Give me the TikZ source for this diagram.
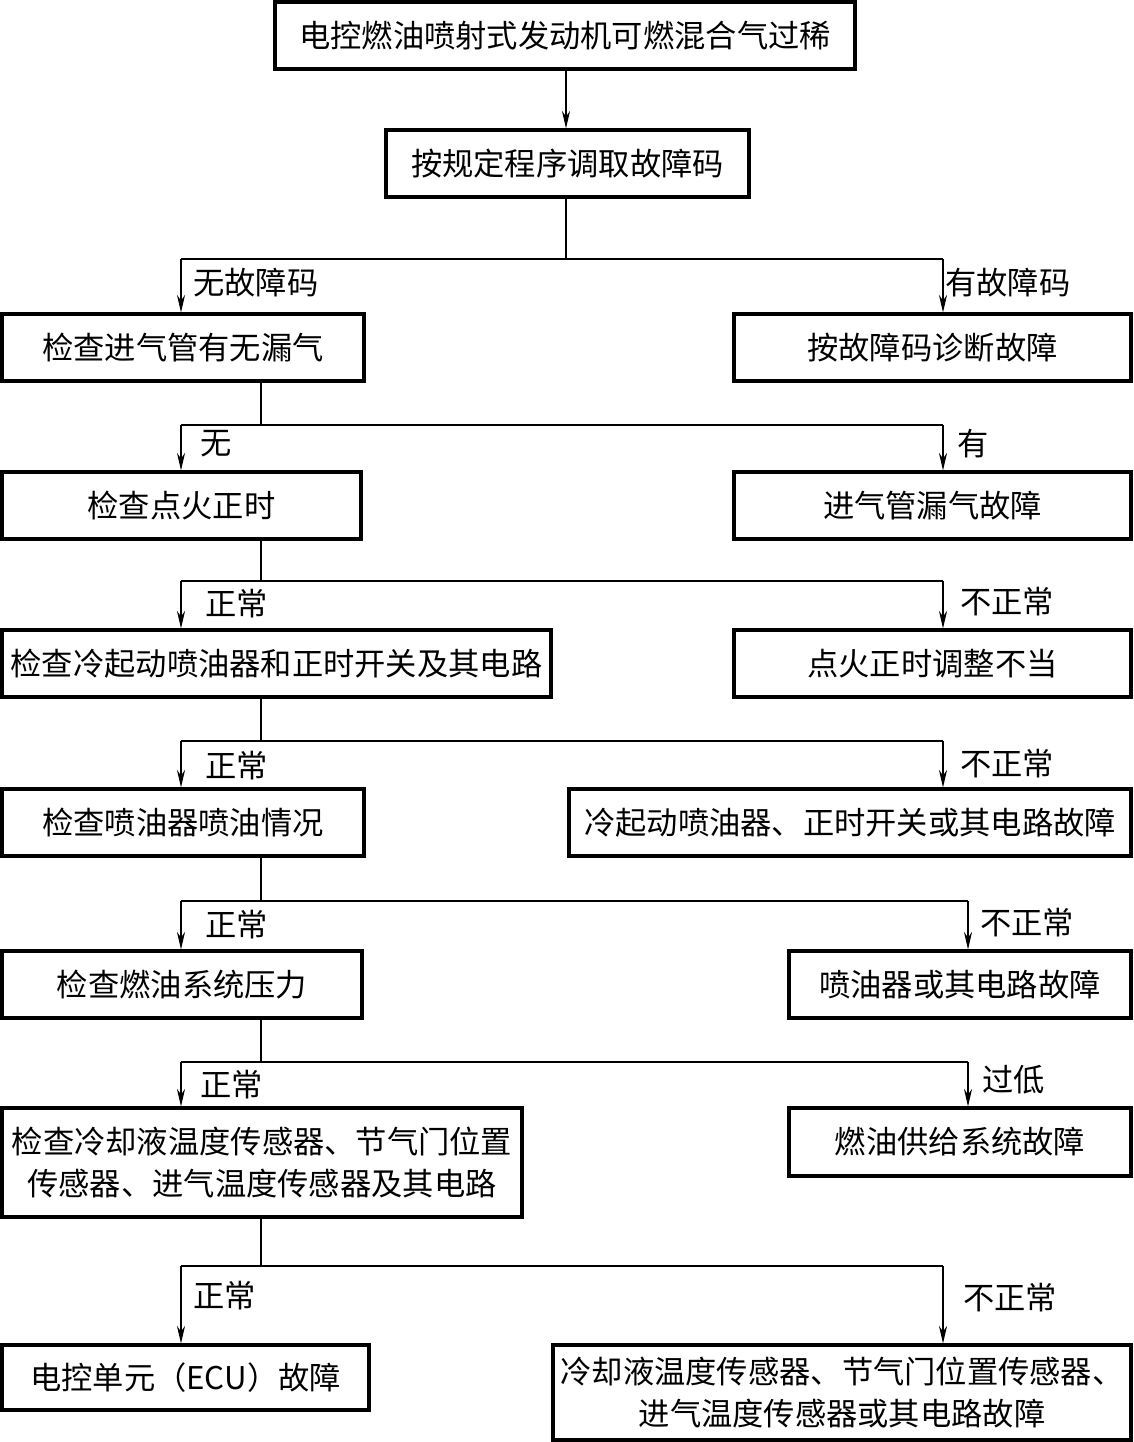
\documentclass[tikz,border=0pt]{standalone}
\usepackage{fontspec}
\setmainfont{Noto Sans CJK SC}
\usetikzlibrary{arrows.meta}
\begin{document}
\begin{tikzpicture}[x=0.02cm,y=-0.02cm,
  box/.style={draw,line width=1.8pt,inner sep=0pt,align=center,minimum height=1.34cm,
    font=\fontsize{17.8pt}{23.5pt}\selectfont},
  lbl/.style={anchor=west,inner sep=0pt,font=\fontsize{17.8pt}{23.5pt}\selectfont},
  conn/.style={line width=0.7pt},
  arr/.style={conn,-{Stealth[length=10pt,width=4.6pt]}}]
\useasboundingbox (0,0) rectangle (1133,1442);
% boxes
\node[box,minimum width=11.6cm] (b1) at (565,35.5) {电控燃油喷射式发动机可燃混合气过稀};
\node[box,minimum width=7.26cm] (b2) at (567.5,163.5) {按规定程序调取故障码};
\node[box,minimum width=7.24cm] (b3L) at (183,347.5) {检查进气管有无漏气};
\node[box,minimum width=7.94cm] (b3R) at (932.5,347.5) {按故障码诊断故障};
\node[box,minimum width=7.18cm] (b4L) at (181.5,505.5) {检查点火正时};
\node[box,minimum width=7.94cm] (b4R) at (932.5,505.5) {进气管漏气故障};
\node[box,minimum width=10.98cm] (b5L) at (276.5,663.5) {检查冷起动喷油器和正时开关及其电路};
\node[box,minimum width=7.94cm] (b5R) at (932.5,663.5) {点火正时调整不当};
\node[box,minimum width=7.24cm] (b6L) at (183,822.5) {检查喷油器喷油情况};
\node[box,minimum width=11.24cm] (b6R) at (850,822.5) {冷起动喷油器、正时开关或其电路故障};
\node[box,minimum width=7.2cm] (b7L) at (182,984.5) {检查燃油系统压力};
\node[box,minimum width=6.84cm] (b7R) at (960,984.5) {喷油器或其电路故障};
\node[box,minimum width=10.4cm,minimum height=2.18cm] (b8L) at (262,1162.5) {检查冷却液温度传感器、节气门位置\\传感器、进气温度传感器及其电路};
\node[box,minimum width=6.84cm,minimum height=1.36cm] (b8R) at (960,1142) {燃油供给系统故障};
\node[box,minimum width=7.34cm,minimum height=1.3cm] (b9L) at (185.5,1377.5) {电控单元（ECU）故障};
\node[box,minimum width=11.56cm,minimum height=1.9cm] (b9R) at (842,1392.5) {冷却液温度传感器、节气门位置传感器、\\进气温度传感器或其电路故障};
% level 1
\draw[arr] (b1.south -| 566,0) -- (b2.north -| 566,0);
% level 2
\coordinate (j2) at (566,259);
\coordinate (j2L) at (181,259);
\coordinate (j2R) at (943,259);
\draw[conn] (b2.south -| j2) -- (j2);
\draw[conn] (j2L) -- (j2R);
\draw[arr] (j2L) -- (j2L |- b3L.north);
\draw[arr] (j2R) -- (j2R |- b3R.north);
\node[lbl] (l2L) at (193,283) {无故障码};
\node[lbl] (l2R) at (945,283) {有故障码};
% level 3
\coordinate (j3) at (261,425);
\coordinate (j3L) at (181,425);
\coordinate (j3R) at (943,425);
\draw[conn] (b3L.south -| j3) -- (j3);
\draw[conn] (j3L) -- (j3R);
\draw[arr] (j3L) -- (j3L |- b4L.north);
\draw[arr] (j3R) -- (j3R |- b4R.north);
\node[lbl] (l3L) at (200,444) {无};
\node[lbl] (l3R) at (957,444) {有};
% level 4
\coordinate (j4) at (261,581);
\coordinate (j4L) at (181,581);
\coordinate (j4R) at (943,581);
\draw[conn] (b4L.south -| j4) -- (j4);
\draw[conn] (j4L) -- (j4R);
\draw[arr] (j4L) -- (j4L |- b5L.north);
\draw[arr] (j4R) -- (j4R |- b5R.north);
\node[lbl] (l4L) at (205,604) {正常};
\node[lbl] (l4R) at (960,602) {不正常};
% level 5
\coordinate (j5) at (261,741);
\coordinate (j5L) at (181,741);
\coordinate (j5R) at (943,741);
\draw[conn] (b5L.south -| j5) -- (j5);
\draw[conn] (j5L) -- (j5R);
\draw[arr] (j5L) -- (j5L |- b6L.north);
\draw[arr] (j5R) -- (j5R |- b6R.north);
\node[lbl] (l5L) at (205,766) {正常};
\node[lbl] (l5R) at (960,764) {不正常};
% level 6
\coordinate (j6) at (261,901);
\coordinate (j6L) at (181,901);
\coordinate (j6R) at (968,901);
\draw[conn] (b6L.south -| j6) -- (j6);
\draw[conn] (j6L) -- (j6R);
\draw[arr] (j6L) -- (j6L |- b7L.north);
\draw[arr] (j6R) -- (j6R |- b7R.north);
\node[lbl] (l6L) at (205,925) {正常};
\node[lbl] (l6R) at (980,923) {不正常};
% level 7
\coordinate (j7) at (261,1062);
\coordinate (j7L) at (181,1062);
\coordinate (j7R) at (968,1062);
\draw[conn] (b7L.south -| j7) -- (j7);
\draw[conn] (j7L) -- (j7R);
\draw[arr] (j7L) -- (j7L |- b8L.north);
\draw[arr] (j7R) -- (j7R |- b8R.north);
\node[lbl] (l7L) at (200,1085) {正常};
\node[lbl] (l7R) at (982,1080) {过低};
% level 8
\coordinate (j8) at (261,1266);
\coordinate (j8L) at (181,1266);
\coordinate (j8R) at (943,1266);
\draw[conn] (b8L.south -| j8) -- (j8);
\draw[conn] (j8L) -- (j8R);
\draw[arr] (j8L) -- (j8L |- b9L.north);
\draw[arr] (j8R) -- (j8R |- b9R.north);
\node[lbl] (l8L) at (193,1296) {正常};
\node[lbl] (l8R) at (963,1298) {不正常};
\end{tikzpicture}
\end{document}
